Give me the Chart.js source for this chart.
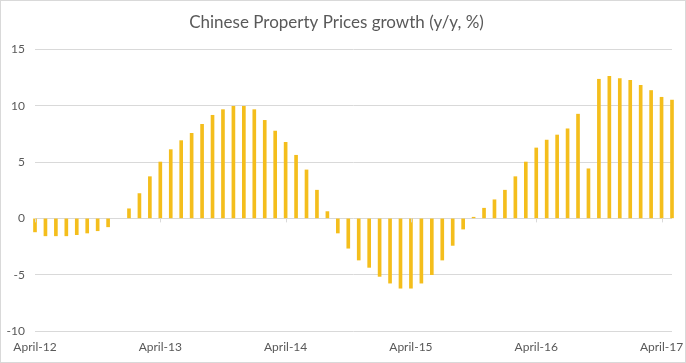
<!DOCTYPE html>
<html>
<head>
<meta charset="utf-8">
<script src="https://cdn.jsdelivr.net/npm/chart.js@4"></script>
<style>
  html, body { margin: 0; padding: 0; background: #fff; }
  .frame { width: 686px; height: 363px; box-sizing: border-box; border: 1px solid #d9d9d9; }
  .frame canvas { display: block; }
</style>
</head>
<body>
<div class="frame"><canvas id="chart" width="684" height="361"></canvas></div>
<script>
// 月次ラベル（April-12 〜 May-17）
const months = [
  'April-12', 'May-12', 'June-12', 'July-12', 'August-12', 'September-12', 'October-12', 'November-12', 'December-12', 'January-13', 'February-13', 'March-13',
  'April-13', 'May-13', 'June-13', 'July-13', 'August-13', 'September-13', 'October-13', 'November-13', 'December-13', 'January-14', 'February-14', 'March-14',
  'April-14', 'May-14', 'June-14', 'July-14', 'August-14', 'September-14', 'October-14', 'November-14', 'December-14', 'January-15', 'February-15', 'March-15',
  'April-15', 'May-15', 'June-15', 'July-15', 'August-15', 'September-15', 'October-15', 'November-15', 'December-15', 'January-16', 'February-16', 'March-16',
  'April-16', 'May-16', 'June-16', 'July-16', 'August-16', 'September-16', 'October-16', 'November-16', 'December-16', 'January-17', 'February-17', 'March-17',
  'April-17', 'May-17'
];

// 前年比（%）
const growth = [
  -1.2, -1.55, -1.55, -1.55, -1.45, -1.3, -1.1, -0.75, null, 0.85, 2.2, 3.7,
  5.0, 6.1, 6.9, 7.55, 8.35, 9.15, 9.65, 9.95, 9.95, 9.65, 8.7, 7.75,
  6.75, 5.6, 4.3, 2.5, 0.6, -1.3, -2.65, -3.7, -4.35, -5.15, -5.75, -6.2,
  -6.2, -5.75, -5.0, -3.7, -2.4, -0.95, 0.1, 0.9, 1.65, 2.5, 3.7, 5.0,
  6.25, 6.95, 7.4, 7.95, 9.25, 4.4, 12.35, 12.6, 12.4, 12.25, 11.8, 11.35,
  10.75, 10.5
];

const yTicks = [-10, -5, 0, 5, 10, 15];
const titleText = 'Chinese Property Prices growth (y/y, %)';

const gridColor = '#d9d9d9';
const textColor = '#595959';
const barColor = '#f4be1c';

/**
 * ゼロ線上の年ごとの目盛り
 */
const zeroTickPlugin = {
  id: 'zeroTicks',
  afterDraw(chart) {
    const { ctx } = chart;
    const x = chart.scales.x;
    const y0 = chart.scales.y.getPixelForValue(0);
    ctx.save();
    ctx.strokeStyle = gridColor;
    ctx.lineWidth = 1;
    months.forEach((m, i) => {
      if (i % 12 !== 0) return;
      const px = Math.round(x.getPixelForValue(i)) + 0.5;
      ctx.beginPath();
      ctx.moveTo(px, y0);
      ctx.lineTo(px, y0 + 4);
      ctx.stroke();
    });
    ctx.restore();
  }
};

document.addEventListener('DOMContentLoaded', function() {
  const ctx = document.getElementById('chart').getContext('2d');
  new Chart(ctx, {
    type: 'bar',
    data: {
      labels: months,
      datasets: [{
        data: growth,
        backgroundColor: barColor,
        barThickness: 3,
        clip: false
      }]
    },
    options: {
      responsive: false,
      animation: false,
      layout: { padding: { left: 0, right: 13, top: 0, bottom: 0 } },
      plugins: {
        legend: { display: false },
        tooltip: { enabled: false },
        title: {
          display: true,
          text: titleText,
          color: textColor,
          font: { family: 'Lato', size: 17, weight: 'normal' },
          padding: { top: 11, bottom: 17 }
        }
      },
      scales: {
        x: {
          offset: false,
          grid: { display: false },
          border: { display: false },
          afterFit: scale => { scale.height = 31; },
          ticks: {
            autoSkip: false,
            maxRotation: 0,
            padding: 1,
            color: textColor,
            font: { family: 'Lato', size: 12 },
            callback: (v, i) => (i % 12 === 0 ? months[i] : '')
          }
        },
        y: {
          min: yTicks[0],
          max: yTicks[yTicks.length - 1],
          afterBuildTicks: scale => { scale.ticks = yTicks.map(v => ({ value: v })); },
          afterFit: scale => { scale.width = 34; },
          grid: { color: gridColor, drawTicks: false },
          border: { display: false },
          ticks: {
            padding: 10,
            color: textColor,
            font: { family: 'Lato', size: 12 }
          }
        }
      }
    },
    plugins: [zeroTickPlugin]
  });
});
</script>
</body>
</html>
